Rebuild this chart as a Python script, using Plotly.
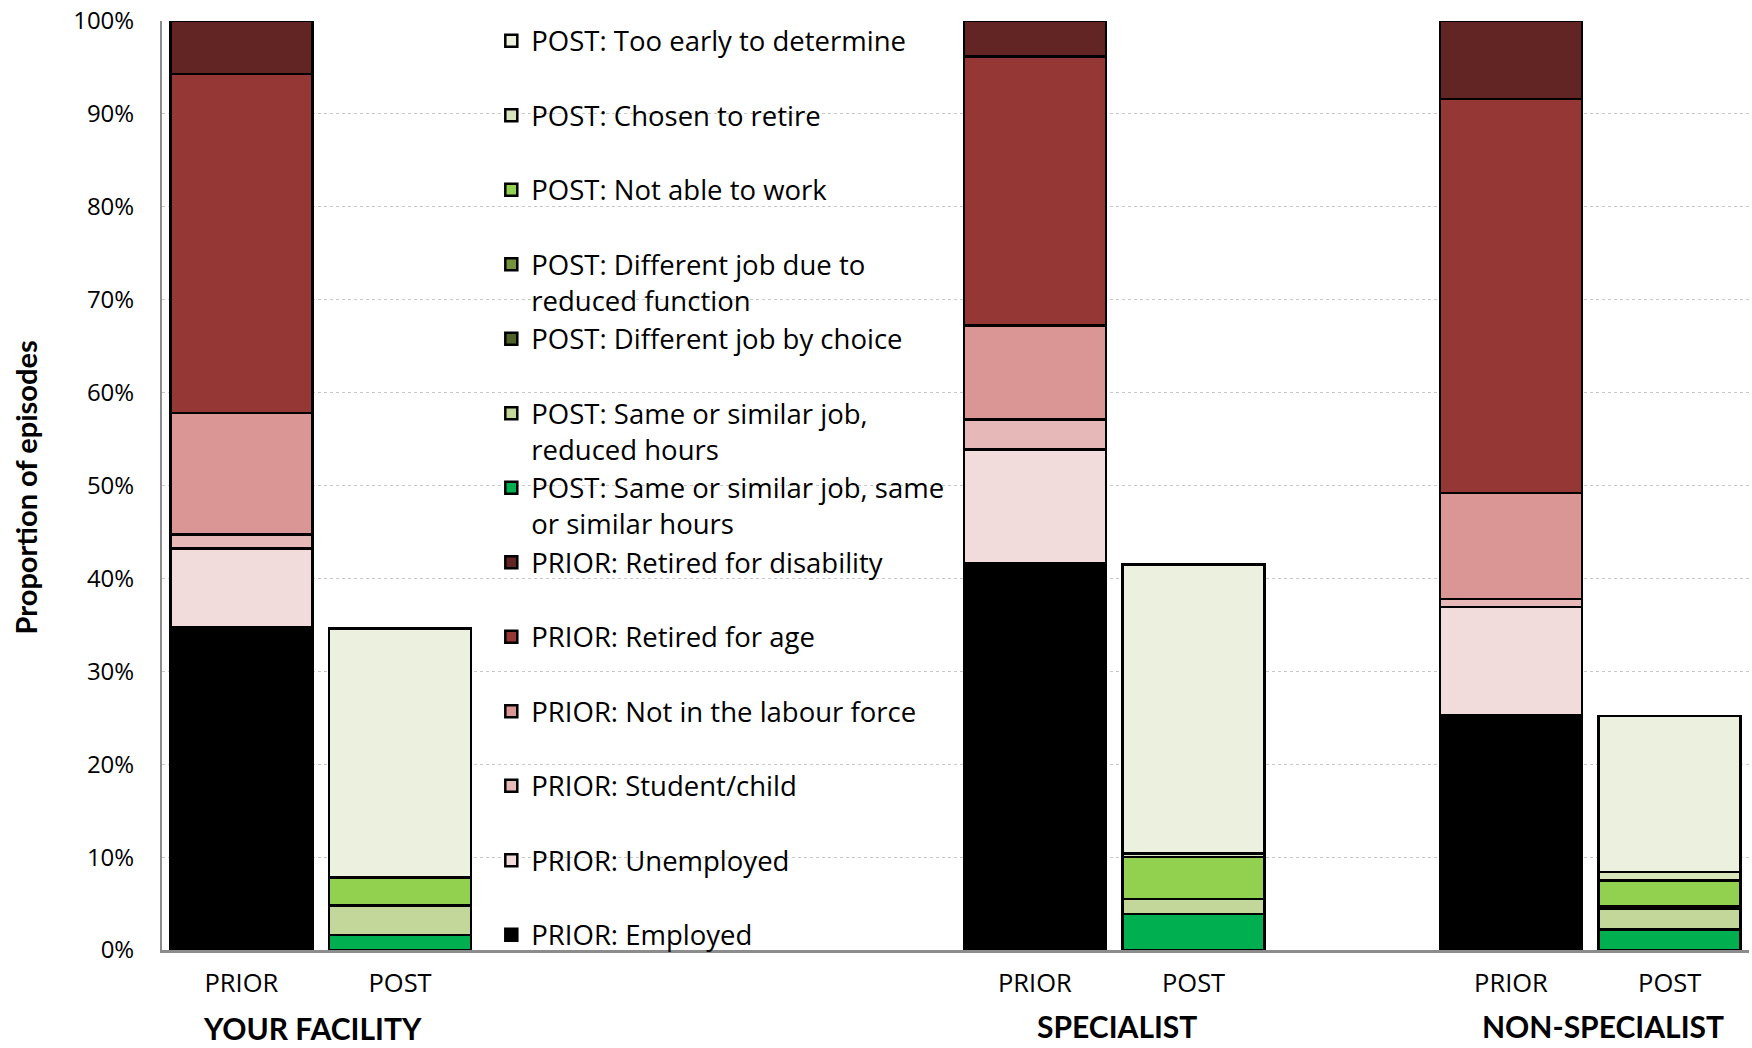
import plotly.graph_objects as go

# ---- data ----
x_pos = [0, 1, 5, 6, 8, 9]
tick_labels = ["PRIOR", "POST", "PRIOR", "POST", "PRIOR", "POST"]
y_ticks = list(range(0, 101, 10))
y_tick_labels = [f"{v}%" for v in y_ticks]
group_labels = ["YOUR FACILITY", "SPECIALIST", "NON-SPECIALIST"]
group_centers = [0.45, 5.52, 8.58]

prior_employed = [34.7, None, 41.6, None, 25.3, None]
prior_unemployed = [8.5, None, 12.3, None, 11.6, None]
prior_student = [1.5, None, 3.2, None, 0.9, None]
prior_nilf = [13.1, None, 10.1, None, 11.4, None]
prior_ret_age = [36.5, None, 29.0, None, 42.4, None]
prior_ret_dis = [5.7, None, 3.8, None, 8.4, None]
post_same_hours = [None, 1.6, None, 3.9, None, 2.2]
post_reduced_hours = [None, 3.2, None, 1.6, None, 2.2]
post_diff_choice = [None, None, None, None, None, None]
post_diff_reduced = [None, None, None, None, None, 0.3]
post_not_able = [None, 3.0, None, 4.5, None, 2.8]
post_chosen_retire = [None, None, None, 0.4, None, 0.9]
post_too_early = [None, 26.8, None, 31.1, None, 16.8]

series = [
    ("PRIOR: Employed", prior_employed, "#000000"),
    ("PRIOR: Unemployed", prior_unemployed, "#F2DCDB"),
    ("PRIOR: Student/child", prior_student, "#E6B8B7"),
    ("PRIOR: Not in the labour force", prior_nilf, "#DA9694"),
    ("PRIOR: Retired for age", prior_ret_age, "#953735"),
    ("PRIOR: Retired for disability", prior_ret_dis, "#632523"),
    ("POST: Same or similar job, same<br>or similar hours", post_same_hours, "#00B050"),
    ("POST: Same or similar job,<br>reduced hours", post_reduced_hours, "#C4D79B"),
    ("POST: Different job by choice", post_diff_choice, "#4F6228"),
    ("POST: Different job due to<br>reduced function", post_diff_reduced, "#76933C"),
    ("POST: Not able to work", post_not_able, "#92D050"),
    ("POST: Chosen to retire", post_chosen_retire, "#D8E4BC"),
    ("POST: Too early to determine", post_too_early, "#EBF1DE"),
]

FONT = "Open Sans"
FONT_B = "Lato"

fig = go.Figure()
n = len(series)
for i, (name, vals, color) in enumerate(series):
    label = name if "<br>" in name else name + "<br>&nbsp;"
    fig.add_trace(go.Bar(
        x=x_pos, y=vals, name=label, legendgroup=f"g{i}",
        legendrank=n - i,
        width=0.895,
        marker=dict(color=color, line=dict(color="#000000", width=2.5)),
    ))

fig.update_layout(
    width=1752, height=1048,
    barmode="stack",
    plot_bgcolor="white", paper_bgcolor="white",
    margin=dict(l=162, r=3, t=18, b=98),
    font=dict(family=FONT, size=24, color="#000000"),
    showlegend=True,
    legend=dict(
        x=0.2075, y=1.005, xanchor="left", yanchor="top",
        traceorder="normal", tracegroupgap=0,
        valign="top", maxheight=1048,
        bgcolor="rgba(0,0,0,0)",
        font=dict(family=FONT, size=27.5, color="#000000"),
    ),
    xaxis=dict(
        range=[-0.5, 9.5],
        tickvals=x_pos, ticktext=tick_labels,
        showgrid=False, zeroline=False,
        showline=True, linecolor="#8C8C8C", linewidth=3,
        ticks="", ticklabelstandoff=8,
        tickfont=dict(family=FONT, size=25.5),
    ),
    yaxis=dict(
        range=[0, 100],
        tickvals=y_ticks, ticktext=y_tick_labels,
        showgrid=True, gridcolor="#C8C8C8", griddash="dot", gridwidth=1,
        zeroline=False,
        showline=True, linecolor="#8C8C8C", linewidth=2,
        ticks="", ticklabelstandoff=21,
        tickfont=dict(family=FONT, size=24),
    ),
)

group_y = [-0.0838, -0.0816, -0.0816]
for lbl, xc, gy in zip(group_labels, group_centers, group_y):
    fig.add_annotation(
        x=xc, y=gy, xref="x", yref="paper", text=f"<b>{lbl}</b>",
        showarrow=False, xanchor="center", yanchor="middle",
        font=dict(family=FONT_B, size=30, color="#000000"),
    )

fig.add_annotation(
    x=-0.0863, y=0.498, xref="paper", yref="paper",
    text="<b>Proportion of episodes</b>", textangle=-90,
    showarrow=False, xanchor="center", yanchor="middle",
    font=dict(family=FONT_B, size=29, color="#000000"),
)

fig.write_html(
    "out.html",
    config={"displayModeBar": False},
    post_script="document.body.style.margin='0px';",
)
